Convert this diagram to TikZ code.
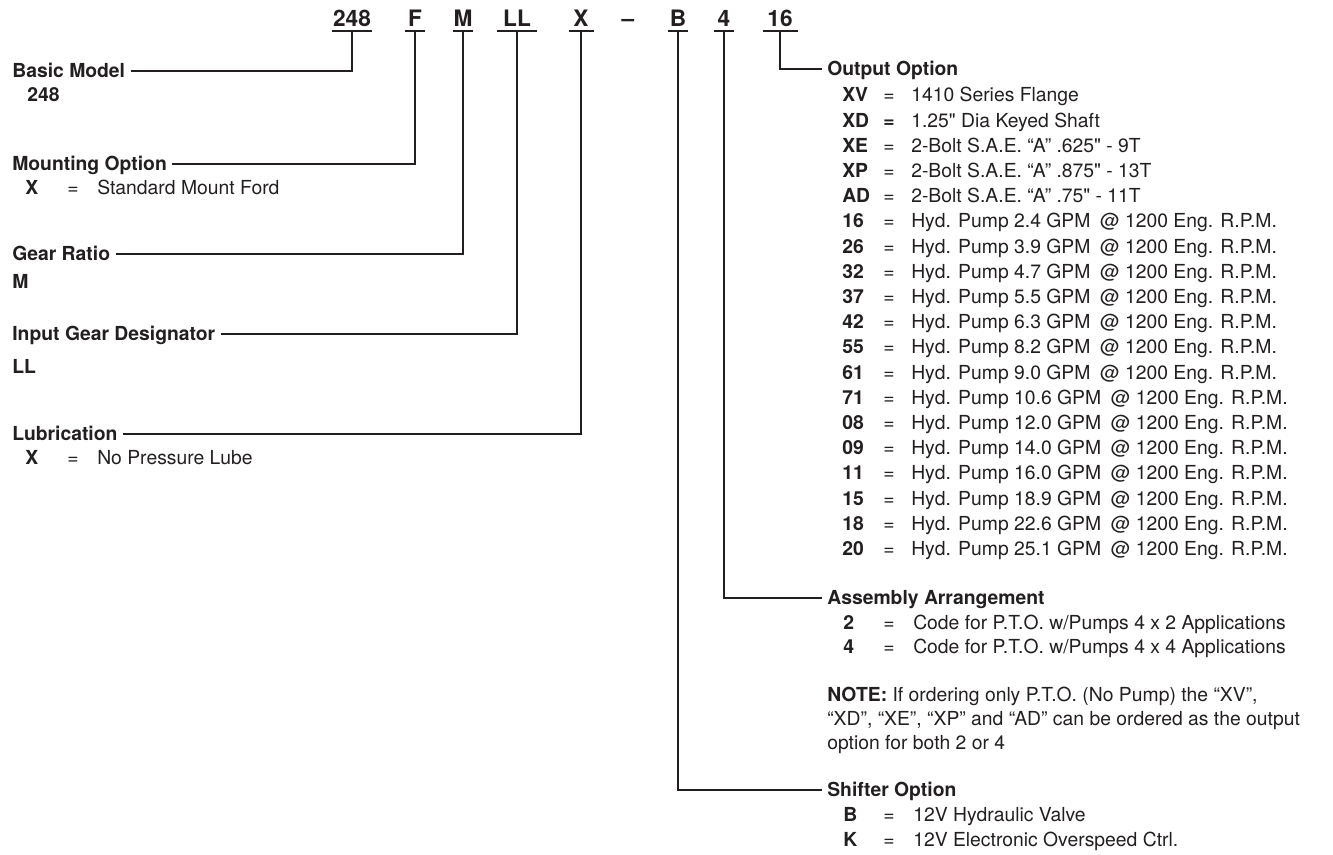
\documentclass[tikz,border=0pt]{standalone}
\usepackage{fontspec}
\setmainfont{TeX Gyre Heros}[Ligatures=TeXOff]
\definecolor{ink}{HTML}{231F20}
\tikzset{
  lead/.style={line width=1.7pt, draw=ink},
  code/.style={font=\fontsize{17}{20}\selectfont\bfseries, text=ink, anchor=base, inner xsep=0pt, inner ysep=3.75pt, text depth=0pt},
  heading/.style={font=\fontsize{14.5}{18}\selectfont\bfseries, text=ink, anchor=west, inner xsep=4pt, inner ysep=0pt, text height=10.4pt, text depth=0pt},
  row/.style={font=\fontsize{14.5}{18}\selectfont, text=ink, anchor=west, inner sep=0pt, text height=10.4pt, text depth=0pt},
  key/.style={row, font=\fontsize{14.5}{18}\selectfont\bfseries},
  eqs/.style={row, anchor=center},
}
\begin{document}
\begin{tikzpicture}[x=0.75pt, y=-0.75pt]
	\useasboundingbox (0,0) rectangle (1333,854);

	% the model number
	\foreach \nm/\txt/\px/\hw in {c248/248/352/20, cF/F/415/10, cM/M/463/10, cLL/LL/517/20, cX/X/581/12.5, cB/B/678/10, c4/4/724/10, c16/16/780/17.5} {
		\node[code] (\nm) at (\px,26) {\txt};
		\draw[lead] (\nm.south) ++(-\hw,0) -- ++(2*\hw,0);
	}
	\node[code] (cdash) at (628,26) {–};

	% left side
	\node[heading] (bm) at (6.7,71)  {Basic Model};
	\node[heading] (mo) at (6.7,164) {Mounting Option};
	\node[heading] (gr) at (6.7,254) {Gear Ratio};
	\node[heading] (ig) at (6.7,334) {Input Gear Designator};
	\node[heading] (lu) at (6.7,434) {Lubrication};

	\node[key] (bm1) at (27,95) {248};
	\node[key] (mo1) at (25,188) {X};
	\node[eqs] (mo2) at (73,188) {=};
	\node[row] (mo3) at (97,188) {Standard Mount Ford};
	\node[key] (gr1) at (12,282) {M};
	\node[key] (ig1) at (12,367) {LL};
	\node[key] (lu1) at (25,458) {X};
	\node[eqs] (lu2) at (73,458) {=};
	\node[row] (lu3) at (97,458) {No Pressure Lube};

	\draw[lead] (c248.south) |- (bm.east);
	\draw[lead] (cF.south) |- (mo.east);
	\draw[lead] (cM.south) |- (gr.east);
	\draw[lead] (cLL.south) |- (ig.east);
	\draw[lead] (cX.south) |- (lu.east);

	% right side
	\node[heading] (oo) at (821.7,69)  {Output Option};
	\node[heading] (aa) at (821.7,598) {Assembly Arrangement};
	\node[heading] (so) at (821.7,790) {Shifter Option};

	\foreach \cd/\eq/\ds [count=\i from 0] in {
		XV/=/1410 Series Flange,
		XD/\textbf{=}/1.25" Dia Keyed Shaft,
		XE/=/2-Bolt S.A.E. “A” .625" - 9T,
		XP/=/2-Bolt S.A.E. “A” .875" - 13T,
		AD/=/2-Bolt S.A.E. “A” .75" - 11T,
		16/=/Hyd. Pump 2.4 GPM\enspace@ 1200 Eng. R.P.M.,
		26/=/Hyd. Pump 3.9 GPM\enspace@ 1200 Eng. R.P.M.,
		32/=/Hyd. Pump 4.7 GPM\enspace@ 1200 Eng. R.P.M.,
		37/=/Hyd. Pump 5.5 GPM\enspace@ 1200 Eng. R.P.M.,
		42/=/Hyd. Pump 6.3 GPM\enspace@ 1200 Eng. R.P.M.,
		55/=/Hyd. Pump 8.2 GPM\enspace@ 1200 Eng. R.P.M.,
		61/=/Hyd. Pump 9.0 GPM\enspace@ 1200 Eng. R.P.M.,
		71/=/Hyd. Pump 10.6 GPM\enspace@ 1200 Eng. R.P.M.,
		08/=/Hyd. Pump 12.0 GPM\enspace@ 1200 Eng. R.P.M.,
		09/=/Hyd. Pump 14.0 GPM\enspace@ 1200 Eng. R.P.M.,
		11/=/Hyd. Pump 16.0 GPM\enspace@ 1200 Eng. R.P.M.,
		15/=/Hyd. Pump 18.9 GPM\enspace@ 1200 Eng. R.P.M.,
		18/=/Hyd. Pump 22.6 GPM\enspace@ 1200 Eng. R.P.M.,
		20/=/Hyd. Pump 25.1 GPM\enspace@ 1200 Eng. R.P.M.} {
		\node[key] (oc\i) at (842,95+25.2*\i) {\cd};
		\node[eqs] (oe\i) at (889,95+25.2*\i) {\eq};
		\node[row] (od\i) at (911,95+25.2*\i) {\ds};
	}

	\node[key] (aa1) at (843,623) {2};
	\node[eqs] (aa2) at (889,623) {=};
	\node[row] (aa3) at (913,623) {Code for P.T.O. w/Pumps 4 x 2 Applications};
	\node[key] (aa4) at (843,647) {4};
	\node[eqs] (aa5) at (889,647) {=};
	\node[row] (aa6) at (913,647) {Code for P.T.O. w/Pumps 4 x 4 Applications};

	\node[row] (nt1) at (827,695) {\textbf{NOTE:} If ordering only P.T.O. (No Pump) the “XV”,};
	\node[row] (nt2) at (827,719) {“XD”, “XE”, “XP” and “AD” can be ordered as the output};
	\node[row] (nt3) at (827,743) {option for both 2 or 4};

	\node[key] (so1) at (843,815) {B};
	\node[eqs] (so2) at (889,815) {=};
	\node[row] (so3) at (913,815) {12V Hydraulic Valve};
	\node[key] (so4) at (843,840) {K};
	\node[eqs] (so5) at (889,840) {=};
	\node[row] (so6) at (913,840) {12V Electronic Overspeed Ctrl.};

	\draw[lead] (c16.south) |- (oo.west);
	\draw[lead] (c4.south) |- (aa.west);
	\draw[lead] (cB.south) |- (so.west);
\end{tikzpicture}
\end{document}
